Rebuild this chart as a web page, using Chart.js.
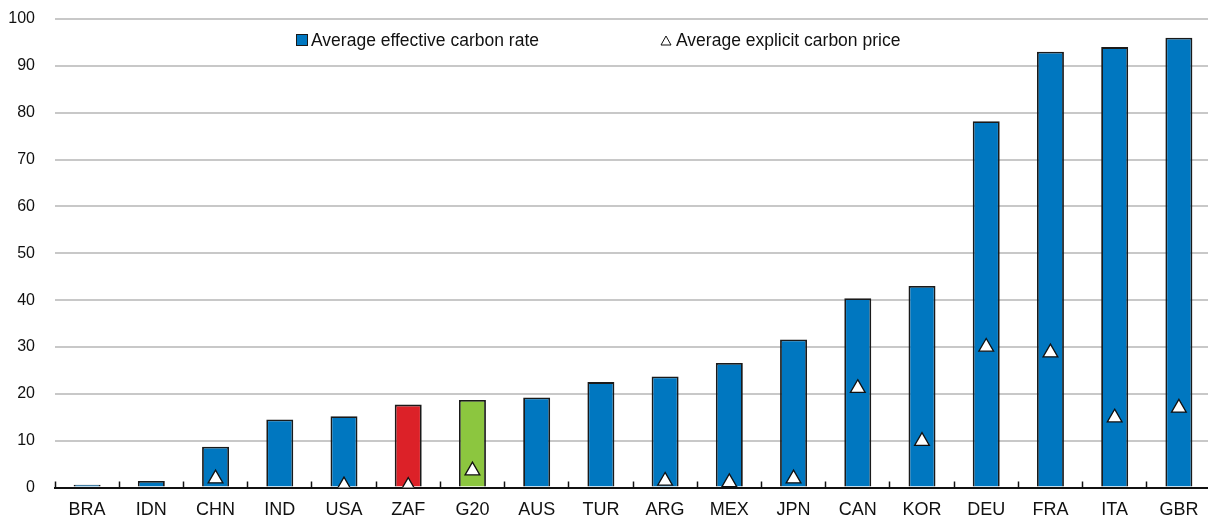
<!DOCTYPE html>
<html>
<head>
<meta charset="utf-8">
<script src="https://cdn.jsdelivr.net/npm/chart.js@4"></script>
<style>
  html, body { margin: 0; padding: 0; background: #fff; overflow: hidden; }
  #wrap { position: relative; width: 1211px; height: 515px; }
  #legend { position: absolute; top: 29px; left: 0; width: 100%; height: 22px;
            font-family: "Liberation Sans", Arial, sans-serif; font-size: 17.5px; color: #111; }
  .item { position: absolute; top: 0; display: flex; align-items: center; height: 22px; white-space: nowrap; }
  .swatch { width: 10px; height: 10px; background: #0077c0; border: 1px solid #1a1a1a; margin-right: 3px; }
  .tri { margin-right: 4px; }
</style>
</head>
<body>
<div id="wrap">
  <canvas id="chart"></canvas>
  <div id="legend"></div>
</div>
<script>
  // categories and values
  const countries = ["BRA", "IDN", "CHN", "IND", "USA", "ZAF", "G20", "AUS", "TUR",
                     "ARG", "MEX", "JPN", "CAN", "KOR", "DEU", "FRA", "ITA", "GBR"];
  const effectiveRate = [0.6, 1.4, 8.7, 14.5, 15.2, 17.7, 18.7, 19.2, 22.5,
                         23.7, 26.6, 31.6, 40.4, 43.0, 78.2, 93.0, 94.0, 96.0];
  const explicitPrice = [null, null, 1.9, null, 0.4, 0.3, 3.6, null, null,
                         1.4, 1.1, 1.9, 21.2, 9.9, 30.0, 28.8, 14.9, 17.0];
  const yTicks = [0, 10, 20, 30, 40, 50, 60, 70, 80, 90, 100];

  const BLUE = "#0077c0", RED = "#dc2128", GREEN = "#8cc63f";
  const barColors = countries.map(c => c === "ZAF" ? RED : c === "G20" ? GREEN : BLUE);

  const FONT = "'Liberation Sans', Arial, sans-serif";
  Chart.defaults.font.family = FONT;
  Chart.defaults.color = "#111";

  const ctx = document.getElementById("chart").getContext("2d");
  const chart = new Chart(ctx, {
    data: {
      labels: countries,
      datasets: [
        {
          type: "bar",
          label: "Average effective carbon rate",
          data: effectiveRate,
          backgroundColor: barColors,
          borderColor: "#1a1a1a",
          borderWidth: 1.8,
          barPercentage: 0.42,
          categoryPercentage: 1,
          order: 1
        },
        {
          type: "line",
          label: "Average explicit carbon price",
          data: explicitPrice,
          showLine: false,
          pointStyle: "triangle",
          pointRadius: 8.5,
          pointHoverRadius: 8.5,
          pointBackgroundColor: "#fff",
          pointBorderColor: "#111",
          pointBorderWidth: 1.3,
          order: 0
        }
      ]
    },
    options: {
      responsive: true,
      maintainAspectRatio: false,
      animation: false,
      layout: { autoPadding: false, padding: { left: 8, right: 0, top: 19, bottom: 0 } },
      plugins: { legend: { display: false }, tooltip: { enabled: false } },
      scales: {
        x: {
          grid: { drawOnChartArea: false, drawTicks: true, tickLength: -6, tickColor: "#111", tickWidth: 1.5 },
          border: { color: "#111", width: 2 },
          ticks: { font: { size: 18 }, padding: 18, color: "#111" },
          afterFit: s => { s.height = 27.5; s.paddingLeft = 0; s.paddingRight = 0; }
        },
        y: {
          min: 0, max: 100,
          afterBuildTicks: s => { s.ticks = yTicks.map(v => ({ value: v })); },
          grid: { color: "#c8c8c8", lineWidth: 2, drawTicks: false },
          border: { display: false },
          ticks: { font: { size: 16 }, padding: 20, color: "#111" },
          afterFit: s => { s.width = 47; s.paddingTop = 0; s.paddingBottom = 0; }
        }
      }
    }
  });

  // html legend built from dataset labels
  const legend = document.getElementById("legend");
  const legendX = [296, 660];
  chart.data.datasets.forEach((ds, i) => {
    const item = document.createElement("div");
    item.className = "item";
    item.style.left = legendX[i] + "px";
    const mark = i === 0
      ? '<span class="swatch"></span>'
      : '<svg class="tri" width="12" height="11" viewBox="0 0 12 11"><polygon points="6,1 11,10 1,10" fill="#fff" stroke="#111" stroke-width="1"/></svg>';
    item.innerHTML = mark + "<span>" + ds.label + "</span>";
    legend.appendChild(item);
  });
</script>
</body>
</html>
